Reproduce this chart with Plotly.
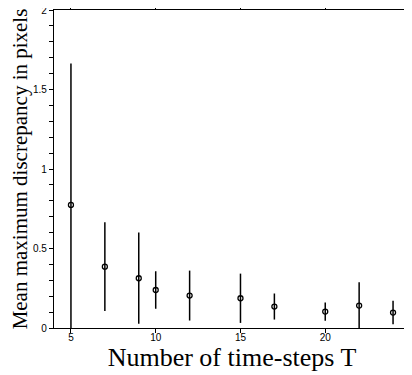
import plotly.graph_objects as go

T = [5, 7, 9, 10, 12, 15, 17, 20, 22, 24]
mean_disc = [0.774, 0.386, 0.313, 0.239, 0.204, 0.187, 0.135, 0.103, 0.141, 0.097]
err = [0.889, 0.279, 0.287, 0.118, 0.157, 0.155, 0.082, 0.058, 0.146, 0.074]

fig = go.Figure()
fig.add_trace(go.Scatter(
    x=T, y=mean_disc, mode="markers",
    marker=dict(symbol="circle-open", size=5, color="black", line=dict(width=1.3, color="black")),
    error_y=dict(type="data", array=err, visible=True, color="black", thickness=1.5, width=0),
    showlegend=False, cliponaxis=True,
))

axis_common = dict(
    showline=True, linecolor="black", linewidth=1.3, mirror="allticks",
    ticks="outside", ticklen=4, tickcolor="black", tickwidth=1,
    showgrid=False, zeroline=False, automargin=False,
    ticklabeloverflow="allow",
    tickfont=dict(family="Liberation Sans, Arial, sans-serif", size=10, color="black"),
)

fig.update_xaxes(
    range=[4, 25], tickvals=[5, 10, 15, 20, 25], ticklabelstandoff=-4,
    title=dict(text="Number of time-steps T", standoff=2,
               font=dict(family="Liberation Serif, Times New Roman, serif", size=26, color="black")),
    **axis_common,
)
fig.update_yaxes(
    range=[0, 2], dtick=0.5, tick0=0,
    minor=dict(dtick=0.1, ticklen=4, tickcolor="black", ticks="outside", tickwidth=1),
    title=dict(text="Mean maximum discrepancy in pixels", standoff=3,
               font=dict(family="Liberation Serif, Times New Roman, serif", size=21, color="black")),
    **axis_common,
)

# page body has an 8px default margin, so the figure is sized to fit the 412x375 window
fig.update_layout(
    width=404, height=367,
    margin=dict(l=46, r=2, t=2, b=47),
    plot_bgcolor="white", paper_bgcolor="white",
)

fig.write_html("out.html")
